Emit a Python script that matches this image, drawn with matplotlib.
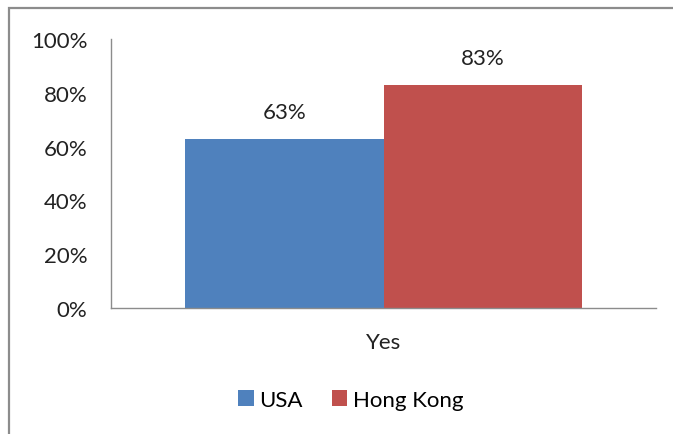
import matplotlib
matplotlib.use("Agg")
import matplotlib.pyplot as plt
from matplotlib.patches import Rectangle, Patch
from matplotlib.ticker import FuncFormatter

plt.rcParams['font.family'] = ['Lato', 'DejaVu Sans']

category = "Yes"
series = ["USA", "Hong Kong"]
values = [63, 83]
colors = ["#4f81bd", "#c0504d"]
yticks = [0, 20, 40, 60, 80, 100]

W, H = 673, 435
FS = 16
fig = plt.figure(figsize=(W / 100, H / 100), dpi=100)

# outer chart frame
fig.patches.append(Rectangle((9 / W, -0.05), 1.2, 1 - 9 / H + 0.05,
                             transform=fig.transFigure, fill=False,
                             edgecolor="#8c8c8c", linewidth=1.6))

ax = fig.add_axes([111 / W, 1 - 309 / H, (656 - 111) / W, (309 - 40) / H])
bar_w = 198 / 545
offsets = [-bar_w / 2, bar_w / 2]
for name, v, c, off in zip(series, values, colors, offsets):
    ax.bar(0.5 + off, v, width=bar_w, color=c, label=name)
    ax.text(0.5 + off, v + 10, f"{v}%", ha="center", va="center",
            fontsize=FS, color="#222222")

ax.set_xlim(0, 1)
ax.set_ylim(0, 100)
ax.set_yticks(yticks)
ax.yaxis.set_major_formatter(FuncFormatter(lambda v, p: f"{v:.0f}%"))
ax.set_xticks([0.5])
ax.set_xticklabels([category])
ax.tick_params(axis="both", length=0, labelsize=FS, labelcolor="#222222")
ax.tick_params(axis="y", pad=17)
ax.tick_params(axis="x", pad=17)
for s in ["top", "right"]:
    ax.spines[s].set_visible(False)
for s in ["left", "bottom"]:
    ax.spines[s].set_color("#8c8c8c")
    ax.spines[s].set_linewidth(1.0)

handles = [Patch(facecolor=c, label=n) for n, c in zip(series, colors)]
fig.legend(handles=handles, loc="center", bbox_to_anchor=(351 / W, 1 - 401 / H),
           ncol=2, frameon=False, fontsize=FS, handlelength=0.7,
           handleheight=0.7, handletextpad=0.25, columnspacing=1.3)

fig.savefig("out.png", dpi=100)
